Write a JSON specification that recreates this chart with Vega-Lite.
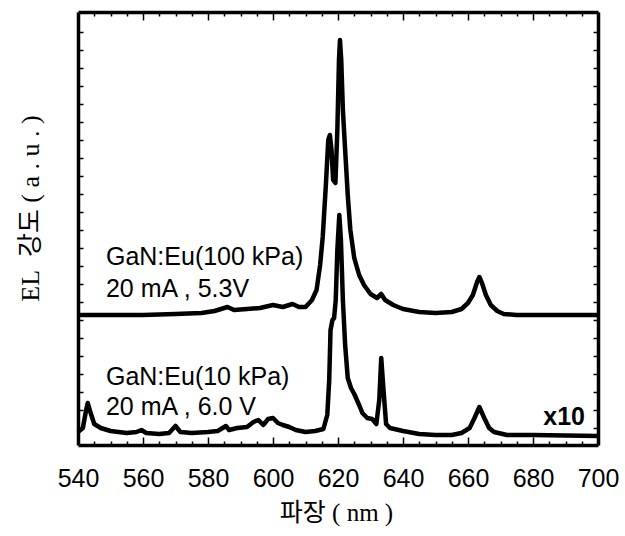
{
  "$schema": "https://vega.github.io/schema/vega-lite/v6.json",
  "width": 520,
  "height": 433,
  "autosize": {"type": "none"},
  "padding": {"left": 78, "top": 12, "right": 27, "bottom": 91},
  "background": "white",
  "config": {
    "view": {"stroke": null},
    "axis": {"domain": true, "domainColor": "black", "domainWidth": 3.5, "grid": false, "tickColor": "black", "tickWidth": 1.5, "labelColor": "black", "titleColor": "black"}
  },
  "datasets": {
    "spectra": [
      {"s": "100kPa", "wl": 540, "v": 130}, {"s": "100kPa", "wl": 550, "v": 130}, {"s": "100kPa", "wl": 560, "v": 130},
      {"s": "100kPa", "wl": 570, "v": 131}, {"s": "100kPa", "wl": 578, "v": 132}, {"s": "100kPa", "wl": 582, "v": 134},
      {"s": "100kPa", "wl": 586, "v": 138}, {"s": "100kPa", "wl": 588, "v": 135}, {"s": "100kPa", "wl": 592, "v": 136},
      {"s": "100kPa", "wl": 596, "v": 137}, {"s": "100kPa", "wl": 600, "v": 140}, {"s": "100kPa", "wl": 603, "v": 138},
      {"s": "100kPa", "wl": 606, "v": 141}, {"s": "100kPa", "wl": 608, "v": 138}, {"s": "100kPa", "wl": 610, "v": 138},
      {"s": "100kPa", "wl": 612, "v": 145}, {"s": "100kPa", "wl": 613.4, "v": 155}, {"s": "100kPa", "wl": 614.5, "v": 180},
      {"s": "100kPa", "wl": 615.3, "v": 208}, {"s": "100kPa", "wl": 616.3, "v": 262}, {"s": "100kPa", "wl": 617, "v": 305},
      {"s": "100kPa", "wl": 617.5, "v": 310}, {"s": "100kPa", "wl": 618, "v": 295}, {"s": "100kPa", "wl": 618.5, "v": 265},
      {"s": "100kPa", "wl": 619.2, "v": 262}, {"s": "100kPa", "wl": 619.8, "v": 315}, {"s": "100kPa", "wl": 620.3, "v": 385},
      {"s": "100kPa", "wl": 620.6, "v": 405}, {"s": "100kPa", "wl": 621, "v": 385}, {"s": "100kPa", "wl": 621.5, "v": 335},
      {"s": "100kPa", "wl": 622.2, "v": 295}, {"s": "100kPa", "wl": 623, "v": 250}, {"s": "100kPa", "wl": 623.8, "v": 215},
      {"s": "100kPa", "wl": 625, "v": 187}, {"s": "100kPa", "wl": 626.5, "v": 170}, {"s": "100kPa", "wl": 628, "v": 160},
      {"s": "100kPa", "wl": 630, "v": 151}, {"s": "100kPa", "wl": 632, "v": 147}, {"s": "100kPa", "wl": 633.3, "v": 151},
      {"s": "100kPa", "wl": 634.5, "v": 145}, {"s": "100kPa", "wl": 637, "v": 140}, {"s": "100kPa", "wl": 640, "v": 136},
      {"s": "100kPa", "wl": 645, "v": 133}, {"s": "100kPa", "wl": 650, "v": 132}, {"s": "100kPa", "wl": 655, "v": 133},
      {"s": "100kPa", "wl": 658, "v": 136}, {"s": "100kPa", "wl": 660, "v": 142}, {"s": "100kPa", "wl": 661.5, "v": 150},
      {"s": "100kPa", "wl": 662.8, "v": 163}, {"s": "100kPa", "wl": 663.5, "v": 168}, {"s": "100kPa", "wl": 664.3, "v": 162},
      {"s": "100kPa", "wl": 665.5, "v": 150}, {"s": "100kPa", "wl": 667, "v": 140}, {"s": "100kPa", "wl": 669, "v": 134},
      {"s": "100kPa", "wl": 671, "v": 131}, {"s": "100kPa", "wl": 675, "v": 130}, {"s": "100kPa", "wl": 690, "v": 130},
      {"s": "100kPa", "wl": 700, "v": 130},
      {"s": "10kPa", "wl": 540, "v": 13}, {"s": "10kPa", "wl": 541.5, "v": 17}, {"s": "10kPa", "wl": 542.5, "v": 35},
      {"s": "10kPa", "wl": 543, "v": 42}, {"s": "10kPa", "wl": 543.8, "v": 33}, {"s": "10kPa", "wl": 545, "v": 21},
      {"s": "10kPa", "wl": 547, "v": 17}, {"s": "10kPa", "wl": 550, "v": 14}, {"s": "10kPa", "wl": 555, "v": 12},
      {"s": "10kPa", "wl": 558, "v": 13}, {"s": "10kPa", "wl": 559.5, "v": 15}, {"s": "10kPa", "wl": 561, "v": 12},
      {"s": "10kPa", "wl": 565, "v": 11}, {"s": "10kPa", "wl": 568, "v": 12}, {"s": "10kPa", "wl": 570, "v": 19},
      {"s": "10kPa", "wl": 571.5, "v": 13}, {"s": "10kPa", "wl": 575, "v": 12}, {"s": "10kPa", "wl": 580, "v": 13},
      {"s": "10kPa", "wl": 583, "v": 14}, {"s": "10kPa", "wl": 585.5, "v": 19}, {"s": "10kPa", "wl": 586.5, "v": 15},
      {"s": "10kPa", "wl": 589, "v": 17}, {"s": "10kPa", "wl": 592, "v": 18}, {"s": "10kPa", "wl": 594, "v": 23},
      {"s": "10kPa", "wl": 595.5, "v": 25}, {"s": "10kPa", "wl": 597, "v": 20}, {"s": "10kPa", "wl": 598.5, "v": 26},
      {"s": "10kPa", "wl": 600, "v": 27}, {"s": "10kPa", "wl": 601.5, "v": 22}, {"s": "10kPa", "wl": 603, "v": 20},
      {"s": "10kPa", "wl": 605, "v": 18}, {"s": "10kPa", "wl": 607, "v": 15}, {"s": "10kPa", "wl": 610, "v": 13},
      {"s": "10kPa", "wl": 613, "v": 14}, {"s": "10kPa", "wl": 615.5, "v": 16}, {"s": "10kPa", "wl": 616.7, "v": 30},
      {"s": "10kPa", "wl": 617.3, "v": 65}, {"s": "10kPa", "wl": 617.7, "v": 115}, {"s": "10kPa", "wl": 618.3, "v": 125},
      {"s": "10kPa", "wl": 618.8, "v": 127}, {"s": "10kPa", "wl": 619.3, "v": 145}, {"s": "10kPa", "wl": 619.8, "v": 195},
      {"s": "10kPa", "wl": 620.4, "v": 230}, {"s": "10kPa", "wl": 620.9, "v": 205}, {"s": "10kPa", "wl": 621.5, "v": 145},
      {"s": "10kPa", "wl": 622.2, "v": 100}, {"s": "10kPa", "wl": 623, "v": 67}, {"s": "10kPa", "wl": 624, "v": 57},
      {"s": "10kPa", "wl": 625, "v": 51}, {"s": "10kPa", "wl": 626.5, "v": 40}, {"s": "10kPa", "wl": 627.5, "v": 32},
      {"s": "10kPa", "wl": 629, "v": 27}, {"s": "10kPa", "wl": 630.5, "v": 26}, {"s": "10kPa", "wl": 631.8, "v": 21},
      {"s": "10kPa", "wl": 632.7, "v": 45}, {"s": "10kPa", "wl": 633.3, "v": 87}, {"s": "10kPa", "wl": 634, "v": 55},
      {"s": "10kPa", "wl": 634.8, "v": 21}, {"s": "10kPa", "wl": 636, "v": 17}, {"s": "10kPa", "wl": 640, "v": 14},
      {"s": "10kPa", "wl": 645, "v": 11}, {"s": "10kPa", "wl": 650, "v": 10}, {"s": "10kPa", "wl": 655, "v": 10},
      {"s": "10kPa", "wl": 658, "v": 12}, {"s": "10kPa", "wl": 660.5, "v": 17}, {"s": "10kPa", "wl": 662, "v": 27},
      {"s": "10kPa", "wl": 663.5, "v": 38}, {"s": "10kPa", "wl": 665, "v": 27}, {"s": "10kPa", "wl": 666.5, "v": 17},
      {"s": "10kPa", "wl": 668, "v": 13}, {"s": "10kPa", "wl": 672, "v": 10}, {"s": "10kPa", "wl": 680, "v": 10},
      {"s": "10kPa", "wl": 700, "v": 9}
    ],
    "labels": [
      {"wl": 548.6, "v": 180, "t": "GaN:Eu(100 kPa)"},
      {"wl": 548.6, "v": 148, "t": "20 mA , 5.3V"},
      {"wl": 548.6, "v": 60, "t": "GaN:Eu(10 kPa)"},
      {"wl": 548.6, "v": 30, "t": "20 mA , 6.0 V"}
    ],
    "scale": [
      {"wl": 696, "v": 20, "t": "x10"}
    ]
  },
  "layer": [
    {
      "data": {"name": "spectra"},
      "mark": {"type": "line", "color": "black", "strokeWidth": 4.5, "strokeJoin": "round"},
      "encoding": {
        "x": {
          "field": "wl", "type": "quantitative",
          "scale": {"domain": [540, 700], "nice": false, "zero": false},
          "axis": {
            "orient": "bottom",
            "values": [540,545,550,555,560,565,570,575,580,585,590,595,600,605,610,615,620,625,630,635,640,645,650,655,660,665,670,675,680,685,690,695,700],
            "tickSize": {"condition": {"test": "datum.value % 20 === 0", "value": -8}, "value": -4},
            "labelExpr": "datum.value % 20 === 0 ? datum.label : ''",
            "labelFont": "Liberation Sans", "labelFontSize": 25, "labelPadding": 29,
            "labelFlush": false, "labelOverlap": false,
            "title": "파장\u00a0(\u00a0nm\u00a0)", "titleFont": "Liberation Serif, Noto Sans CJK KR", "titleFontSize": 25, "titleFontWeight": "normal",
            "titleBaseline": "middle", "titleY": 67, "titleX": 258
          }
        },
        "y": {
          "field": "v", "type": "quantitative",
          "scale": {"domain": [0, 433], "nice": false, "zero": false},
          "axis": {
            "orient": "left",
            "values": [17,35,53,71,89,107,125,143,161,179,197,215,233,251,269,287,305,323,341,359,377,395,413],
            "tickSize": -5, "labels": false,
            "title": "EL\u00a0\u00a0강도\u00a0(\u00a0a\u00a0.\u00a0u\u00a0.\u00a0)", "titleFont": "Liberation Serif, Noto Sans CJK KR", "titleFontSize": 26, "titleFontWeight": "normal",
            "titleBaseline": "middle", "titleAlign": "center", "titleAngle": 270, "titleX": -48, "titleY": 196
          }
        },
        "detail": {"field": "s", "type": "nominal"},
        "order": {"field": "wl", "type": "quantitative"}
      }
    },
    {
      "data": {"name": "labels"},
      "mark": {"type": "text", "font": "Liberation Sans", "fontSize": 25, "baseline": "alphabetic", "align": "left", "color": "black"},
      "encoding": {
        "x": {
          "field": "wl", "type": "quantitative",
          "axis": {
            "orient": "top",
            "values": [540,545,550,555,560,565,570,575,580,585,590,595,600,605,610,615,620,625,630,635,640,645,650,655,660,665,670,675,680,685,690,695,700],
            "tickSize": {"condition": {"test": "datum.value % 20 === 0", "value": -8}, "value": -4},
            "labels": false, "title": null
          }
        },
        "y": {
          "field": "v", "type": "quantitative",
          "axis": {
            "orient": "right",
            "values": [17,35,53,71,89,107,125,143,161,179,197,215,233,251,269,287,305,323,341,359,377,395,413],
            "tickSize": -5, "labels": false, "title": null
          }
        },
        "text": {"field": "t", "type": "nominal"}
      }
    },
    {
      "data": {"name": "scale"},
      "mark": {"type": "text", "font": "Liberation Sans", "fontSize": 25, "fontWeight": "bold", "baseline": "alphabetic", "align": "right", "color": "black"},
      "encoding": {
        "x": {"field": "wl", "type": "quantitative", "axis": null},
        "y": {"field": "v", "type": "quantitative", "axis": null},
        "text": {"field": "t", "type": "nominal"}
      }
    }
  ],
  "resolve": {"axis": {"x": "independent", "y": "independent"}}
}
